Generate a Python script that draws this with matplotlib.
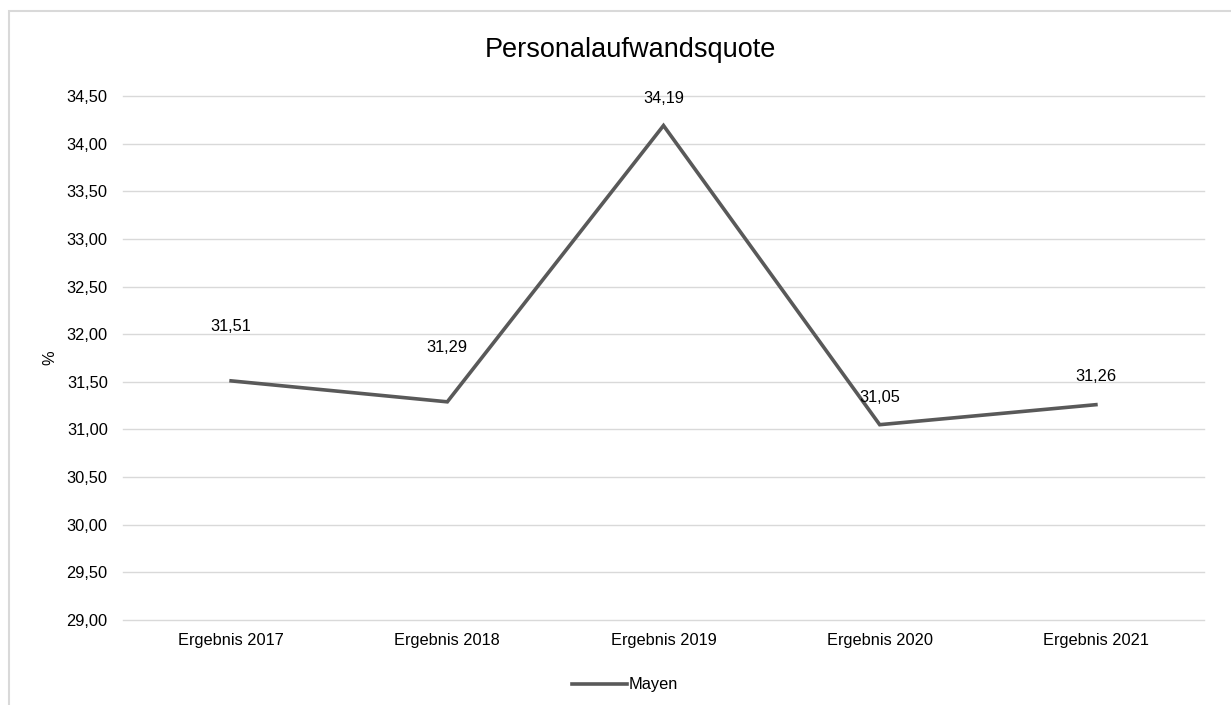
import matplotlib
matplotlib.use("Agg")
import matplotlib.pyplot as plt
from matplotlib.patches import Rectangle
from matplotlib.ticker import MultipleLocator, FuncFormatter

plt.rcParams['font.family'] = ['Liberation Sans', 'DejaVu Sans']

categories = ["Ergebnis 2017", "Ergebnis 2018", "Ergebnis 2019", "Ergebnis 2020", "Ergebnis 2021"]
values = [31.51, 31.29, 34.19, 31.05, 31.26]
series_name = "Mayen"
title = "Personalaufwandsquote"

W, H = 1231, 705
fig = plt.figure(figsize=(W / 100, H / 100), dpi=100)
fig.patches.append(Rectangle((9 / W, -0.1), 1.2, 1 - 11 / H + 0.1, transform=fig.transFigure,
                             fill=False, edgecolor='#d9d9d9', linewidth=1.5))

ax = fig.add_axes([123 / W, 1 - 620 / H, (1204 - 123) / W, (620 - 96) / H])
x = list(range(len(categories)))
line, = ax.plot(x, values, color='#595959', linewidth=2.6, solid_joinstyle='miter', label=series_name)

offsets = [34, 34, 14, 14, 15]
for xi, v, off in zip(x, values, offsets):
    ax.annotate(f"{v:.2f}".replace('.', ','), (xi, v), xytext=(0, off), textcoords='offset points',
                ha='center', va='bottom', fontsize=11.8, color='#000000')

ax.set_xlim(-0.5, len(categories) - 0.5)
ax.set_ylim(29.0, 34.5)
ax.yaxis.set_major_locator(MultipleLocator(0.5))
ax.yaxis.set_major_formatter(FuncFormatter(lambda v, p: f"{v:.2f}".replace('.', ',')))
ax.set_xticks(x)
ax.set_xticklabels(categories)
ax.tick_params(axis='both', length=0, labelsize=11.8, colors='#000000')
ax.tick_params(axis='y', pad=11)
ax.tick_params(axis='x', pad=9)
ax.grid(axis='y', color='#d9d9d9', linewidth=1.0)
for gl in ax.get_ygridlines():
    gl.set_clip_on(False)
ax.set_axisbelow(True)
for s in ax.spines.values():
    s.set_visible(False)

fig.text(50 / W, 1 - 358 / H, "%", rotation=90, ha='center', va='center', fontsize=11.8)
fig.text(630 / W, 1 - 50 / H, title, ha='center', va='center', fontsize=19.5)

fig.legend(handles=[line], loc='center', bbox_to_anchor=(625 / W, 1 - 685 / H), frameon=False,
           fontsize=11.8, handlelength=3.4, handletextpad=0.1)

fig.savefig("out.png", dpi=100)
